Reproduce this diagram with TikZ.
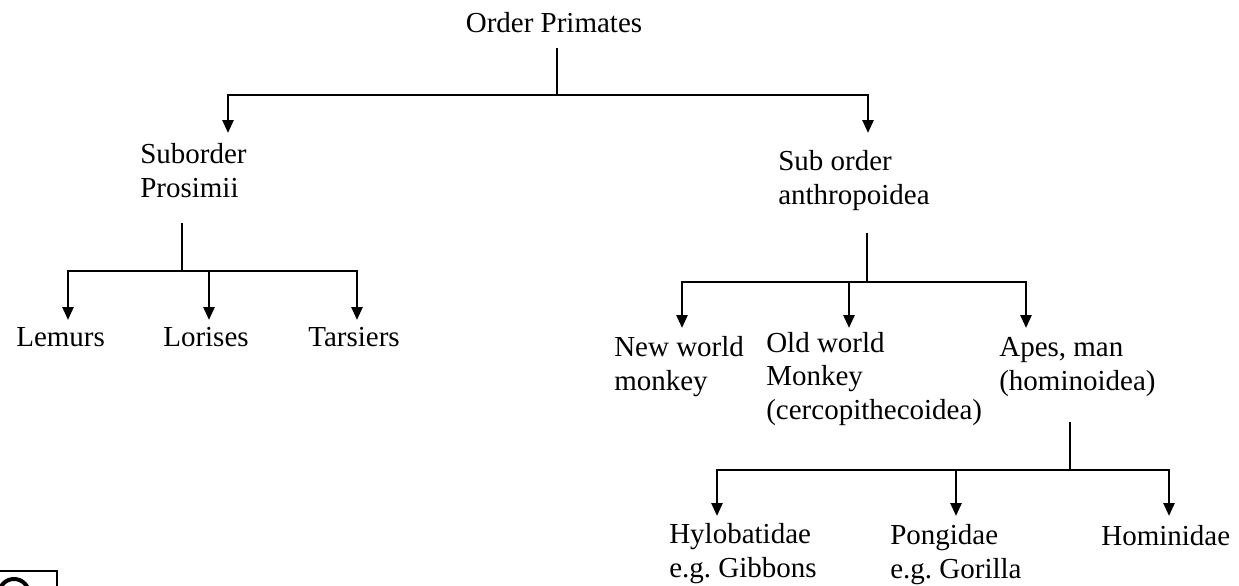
\documentclass[tikz,border=0pt]{standalone}
\usepackage{fontspec}
\setmainfont{Liberation Serif}
\usetikzlibrary{arrows.meta}
\tikzset{
  lbl/.style={anchor=base west,align=left,inner sep=0pt},
  arr/.style={-{Triangle[length=13pt,width=11pt]}},
}
\begin{document}
\begin{tikzpicture}[x=1pt,y=-1pt,line width=2.6pt,font=\fontsize{29}{33.5}\selectfont]
\useasboundingbox (0,0) rectangle (1239,586);
\clip (0,0) rectangle (1239,586);
% order
\node[anchor=base,inner sep=0pt] (ord) at (554,33) {Order Primates};
\coordinate (ordS) at (557,48);
\coordinate (ordJ) at (557,95);
\coordinate (proT) at (228,133);
\coordinate (antT) at (868,133);
\draw (ordS) -- (ordJ);
\foreach \n in {pro,ant} \draw[arr] (ordJ) -| (\n T);
% suborders (base = last line)
\node[lbl] (pro) at (139,197) {Suborder\\Prosimii};
\node[lbl] (ant) at (777,204) {Sub order\\anthropoidea};
\coordinate (proS) at (182,223);
\coordinate (proJ) at (182,271);
\coordinate (antS) at (867,233);
\coordinate (antJ) at (867,282);
\draw (proS) -- (proJ);
\draw (antS) -- (antJ);
\foreach \n/\x in {lem/68,lor/209,tar/357} {
  \coordinate (\n T) at (\x,320);
  \draw[arr] (proJ) -| (\n T);
}
\foreach \n/\x in {nwm/682,owm/849,ape/1026} {
  \coordinate (\n T) at (\x,328);
  \draw[arr] (antJ) -| (\n T);
}
\node[lbl] (lem) at (15,346) {Lemurs};
\node[lbl] (lor) at (162,346) {Lorises};
\node[lbl] (tar) at (307,346) {Tarsiers};
\node[lbl] (nwm) at (613,390) {New world\\monkey};
\node[lbl] (owm) at (765,419) {Old world\\Monkey\\(cercopithecoidea)};
\node[lbl] (ape) at (998,390) {Apes, man\\(hominoidea)};
% hominoidea
\coordinate (apeS) at (1070,422);
\coordinate (apeJ) at (1070,470);
\draw (apeS) -- (apeJ);
\foreach \n/\x in {hyl/717,pon/956,hom/1169} {
  \coordinate (\n T) at (\x,516);
  \draw[arr] (apeJ) -| (\n T);
}
\node[lbl] (hyl) at (668,577) {Hylobatidae\\e.g.\ Gibbons};
\node[lbl] (pon) at (889,578) {Pongidae\\e.g.\ Gorilla};
\node[lbl] (hom) at (1100,545) {Hominidae};
% corner mark
\draw[line width=2.5pt] (-5,571) rectangle (57,600);
\draw[line width=4pt] (14,594) circle (15);
\end{tikzpicture}
\end{document}
